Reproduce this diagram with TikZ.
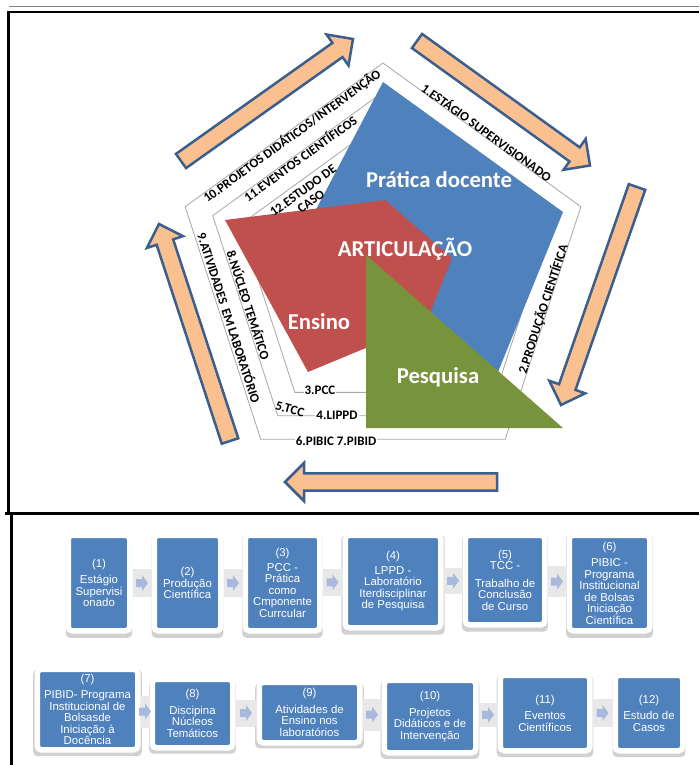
\documentclass[tikz,border=0pt]{standalone}
\usepackage{fontspec}
\setmainfont{Carlito}
\newfontfamily\boxfont{Liberation Sans}
\usepackage{xcolor}
\usepackage{tikz}
\usetikzlibrary{calc}
\usetikzlibrary{shadows}

\definecolor{pratblue}{HTML}{4F81BD}
\definecolor{ensred}{HTML}{C0504D}
\definecolor{pesqgreen}{HTML}{77933C}
\definecolor{arrowfill}{HTML}{FAC090}
\definecolor{arrowedge}{HTML}{3A5F8E}
\definecolor{gridgray}{HTML}{A6A6A6}
\definecolor{chevblue}{HTML}{A7B9DC}

% block arrow from tail #1 to tip #2
\newcommand{\bigarrow}[2]{%
  \coordinate (h) at ($(#2)!19pt!(#1)$);
  \draw[bigarr] ($(#1)!8.7pt!90:(#2)$) -- ($(h)!8.7pt!90:(#2)$) -- ($(h)!19pt!90:(#2)$)
    -- (#2) -- ($(h)!19pt!-90:(#2)$) -- ($(h)!8.7pt!-90:(#2)$) -- ($(#1)!8.7pt!-90:(#2)$) -- cycle;}
% grey band and small arrow between two steps
\newcommand{\stepjoin}[2]{%
  \fill[joinband] ($(#1.east)+(0,-14)$) rectangle ($(#2.west)+(0,14)$);
  \coordinate (m) at ($(#1.east)!0.5!(#2.west)$);
  \fill[joinarrow] ($(m)+(-6,-4)$) -- ($(m)+(0,-4)$) -- ($(m)+(0,-8)$) -- ($(m)+(6,0)$)
    -- ($(m)+(0,8)$) -- ($(m)+(0,4)$) -- ($(m)+(-6,4)$) -- cycle;}

\begin{document}
\begin{tikzpicture}[x=1pt,y=-1pt,
  pentline/.style={draw=gridgray,line width=0.8pt},
  bigarr/.style={draw=arrowedge,fill=arrowfill,line width=2.5pt,line join=miter},
  edgelabel/.style={font=\fontsize{13}{13.5}\selectfont\bfseries,inner sep=1pt,align=center},
  bigtxt/.style={text=white,font=\fontsize{22.7}{24}\selectfont\bfseries},
  stepbox/.style={draw=white,line width=5.5pt,fill=pratblue,rounded corners=4pt,
    text=white,align=center,inner sep=0pt,
    font=\boxfont\fontsize{11.4}{11.5}\selectfont,
    drop shadow={shadow xshift=0pt,shadow yshift=-3pt,shadow scale=1.08,opacity=0.18,fill=black}},
  joinband/.style={fill=gray!18},
  joinarrow/.style={fill=chevblue}]
\useasboundingbox (0,0) rectangle (699,765);

% frames
\draw[gray,line width=1pt] (9,7) -- (699,7);
\draw[line width=2.5pt] (9,12) -- (699,12);
\draw[line width=3pt] (8.5,11) -- (8.5,513);
\draw[line width=3pt] (5,513) -- (699,513);
\draw[line width=3pt] (11,513) -- (11,765);

\begin{scope}[shift={(383,271)}]
	\draw[pentline] (-90:208) -- (-18:208) -- (54:208) -- (126:208) -- (198:208) -- cycle;
	\draw[pentline] (-90:179) -- (-18:179) -- (54:179) -- (126:179) -- (198:179) -- cycle;
	\draw[pentline] (-90:150) -- (-18:150) -- (54:150) -- (126:150) -- (198:150) -- cycle;
\end{scope}

% the three areas
\fill[pratblue] (383,82) -- (563,212) -- (498,372) -- (400,330) -- (300,240) -- cycle;
\fill[ensred] (225,220) -- (385,200) -- (452,258) -- (426,323) -- (308,372) -- cycle;
\fill[pesqgreen] (366,255) -- (366,428) -- (563,428) -- cycle;

\node[bigtxt] (prat) at (439,180) {Prática docente};
\node[bigtxt] (artic) at (405,249) {ARTICULAÇÃO};
\node[bigtxt] (ens) at (319,322) {Ensino};
\node[bigtxt] (pesq) at (438,377) {Pesquisa};

% labels on the pentagon
\node[edgelabel,rotate=-36] (l1) at (487,132) {1.ESTÁGIO SUPERVISIONADO};
\node[edgelabel,rotate=72] (l2) at (543,309) {2.PRODUÇÃO CIENTÍFICA};
\node[edgelabel,fill=white] (l3) at (320,390) {3.PCC};
\node[edgelabel,fill=white] (l4) at (337,415) {4.LIPPD};
\node[edgelabel,rotate=-15] (l5) at (290,409) {5.TCC};
\node[edgelabel,fill=white] (l6) at (336,441) {6.PIBIC 7.PIBID};
\node[edgelabel,rotate=-72] (l8) at (249,305) {8.NÚCLEO TEMÁTICO};
\node[edgelabel,rotate=-72] (l9) at (229.5,317.5) {9.ATIVIDADES\, EM LABORATÓRIO};
\node[edgelabel,rotate=36] (l10) at (292,136) {10.PROJETOS DIDÁTICOS/INTERVENÇÃO};
\node[edgelabel,rotate=36] (l11) at (300,158) {11.EVENTOS CIENTÍFICOS};
\node[edgelabel,rotate=36] (l12) at (307,196) {12.ESTUDO DE\\CASO};

% cycle arrows
\coordinate (t1) at (181,161); \coordinate (p1) at (353,39);
\coordinate (t2) at (417,41);  \coordinate (p2) at (590,165.5);
\coordinate (t3) at (637,187); \coordinate (p3) at (561,405);
\coordinate (t4) at (497,482); \coordinate (p4) at (285,482);
\coordinate (t5) at (230,441); \coordinate (p5) at (159,224);
\bigarrow{t1}{p1}
\bigarrow{t2}{p2}
\bigarrow{t3}{p3}
\bigarrow{t4}{p4}
\bigarrow{t5}{p5}

% steps, first row
\node[stepbox,minimum width=61.5,minimum height=95.5] (s1) at (99,583) {(1)\\[5pt]Estágio\\Supervisi\\onado};
\node[stepbox,minimum width=66.5,minimum height=95.5] (s2) at (187.5,583) {(2)\\Produção\\Científica};
\node[stepbox,minimum width=74.5,minimum height=95.5] (s3) at (282.5,583) {(3)\\[3pt]PCC -\\Prática\\como\\Cmponente\\Currcular};
\node[stepbox,minimum width=95.5,minimum height=92.5] (s4) at (393,581.5) {(4)\\[3pt]LPPD -\\Laboratório\\Iterdisciplinar\\de Pesquisa};
\node[stepbox,minimum width=79.5,minimum height=89.5] (s5) at (505,580) {(5)\\TCC -\\[6pt]Trabalho de\\Conclusão\\de Curso};
\node[stepbox,minimum width=80.5,minimum height=95.5] (s6) at (609.5,583) {(6)\\[5pt]PIBIC -\\Programa\\Institucional\\de Bolsas\\Iniciação\\Científica};
% second row
\node[stepbox,minimum width=100.5,minimum height=80.5] (s7) at (87.5,709.5) {(7)\\[5pt]PIBID- Programa\\Institucional de\\Bolsasde\\Iniciação à\\Docência};
\node[stepbox,minimum width=80.5,minimum height=68.5] (s8) at (192.5,713.5) {(8)\\[5pt]Discipina\\Núcleos\\Temáticos};
\node[stepbox,minimum width=100.5,minimum height=60.5] (s9) at (309.5,712.5) {(9)\\[5pt]Atividades de\\Ensino nos\\laboratórios};
\node[stepbox,minimum width=91.5,minimum height=72.5] (s10) at (430,716.5) {(10)\\[5pt]Projetos\\Didáticos e de\\Intervenção};
\node[stepbox,minimum width=89.5,minimum height=75.5] (s11) at (545,713) {(11)\\[5pt]Eventos\\Científicos};
\node[stepbox,minimum width=67.5,minimum height=75.5] (s12) at (649,713) {(12)\\[5pt]Estudo de\\Casos};

\stepjoin{s1}{s2}
\stepjoin{s2}{s3}
\stepjoin{s3}{s4}
\stepjoin{s4}{s5}
\stepjoin{s5}{s6}
\stepjoin{s7}{s8}
\stepjoin{s8}{s9}
\stepjoin{s9}{s10}
\stepjoin{s10}{s11}
\stepjoin{s11}{s12}
\end{tikzpicture}
\end{document}
